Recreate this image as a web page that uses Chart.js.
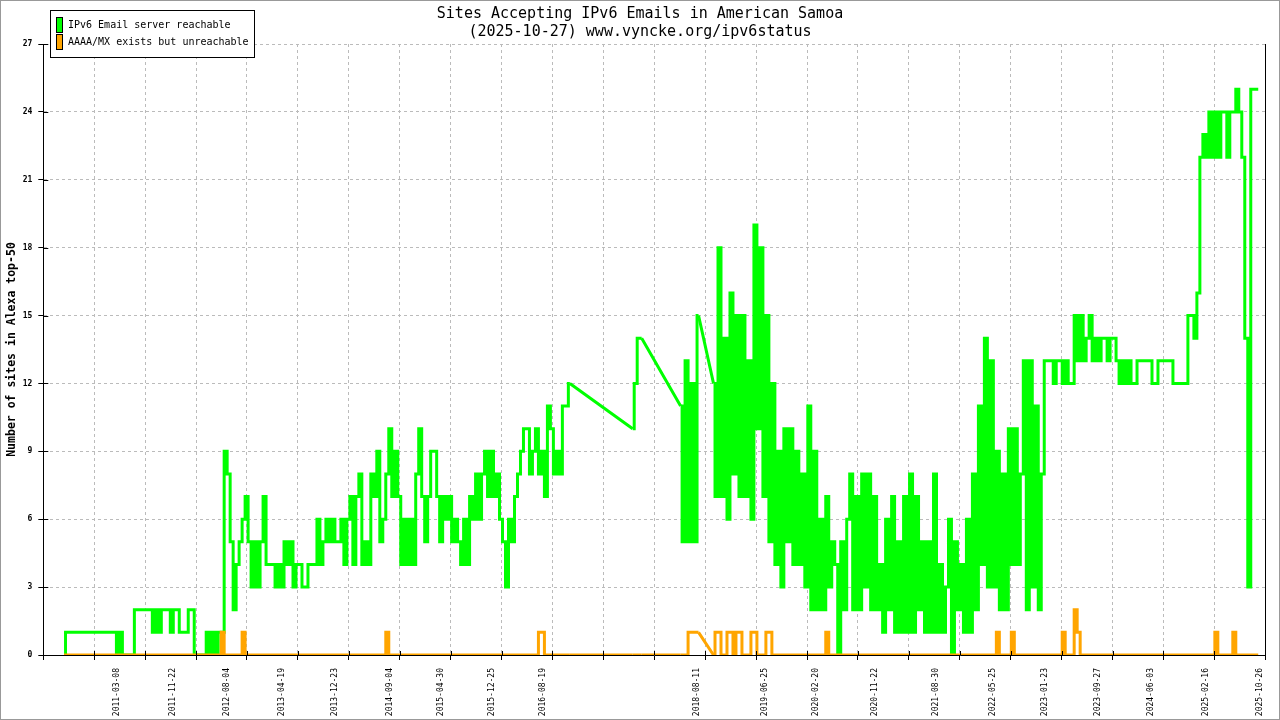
<!DOCTYPE html>
<html>
<head>
<meta charset="utf-8">
<title>Sites Accepting IPv6 Emails in American Samoa</title>
<script src="https://cdn.jsdelivr.net/npm/chart.js"></script>
<style>
  html, body { margin: 0; padding: 0; background: #fff; }
  canvas { display: block; }
</style>
</head>
<body>
<canvas id="myChart" width="1280" height="720"></canvas>
<script>
const chartTitle = ['Sites Accepting IPv6 Emails in American Samoa', '(2025-10-27) www.vyncke.org/ipv6status']
const seriesNames = ['IPv6 Email server reachable', 'AAAA/MX exists but unreachable']
const yAxisTitle = 'Number of sites in Alexa top-50'

const xMinDate = '2010-03-28'
const xMaxDate = '2025-11-20'

// one reading every two weeks, null where the log has no entries
const sampleStart = '2010-07-03'
const sampleStepDays = 14

const reachable = [
  0, 1, 1, 1, 1, 1, 1, 1, 1, 1, 1, 1, 1, 1, 1, 1, 1, 1, 0, 1,
  0, 0, 0, 0, 2, 2, 2, 2, 2, 2, 1, 2, 1, 2, 2, 2, 1, 2, 2, 1,
  1, 1, 2, 2, 0, 0, 0, 0, 1, 0, 1, 0, 1, 1, 9, 8, 5, 2, 4, 5,
  6, 7, 5, 3, 5, 3, 5, 7, 4, 4, 4, 3, 4, 3, 5, 4, 5, 3, 4, 4,
  3, 3, 4, 4, 4, 6, 4, 5, 6, 5, 6, 5, 5, 6, 4, 6, 7, 4, 7, 8,
  4, 5, 4, 8, 7, 9, 5, 6, 8, 10, 7, 9, 7, 4, 6, 4, 6, 4, 8, 10,
  7, 5, 7, 9, 9, 7, 5, 7, 6, 7, 5, 6, 5, 4, 6, 4, 7, 6, 8, 6,
  8, 9, 7, 9, 7, 8, 6, 5, 3, 6, 5, 7, 8, 9, 10, 10, 8, 9, 10, 8,
  9, 7, 11, 10, 8, 9, 8, 11, 11, 12, null, null, null, null, null, null, null, null, null, null,
  null, null, null, null, null, null, null, null, null, null, 10, 12, 14, 14, null, null, null, null, null, null,
  null, null, null, null, null, null, 11, 5, 13, 5, 12, 5, 15, null, null, null, null, 12, 7, 18,
  7, 14, 6, 16, 8, 15, 7, 15, 7, 13, 6, 19, 10, 18, 7, 15, 5, 12, 4, 9,
  3, 10, 5, 10, 4, 9, 4, 8, 3, 11, 2, 9, 2, 6, 2, 7, 3, 5, 4, 0,
  5, 2, 6, 8, 2, 7, 2, 8, 3, 8, 2, 7, 2, 4, 1, 6, 2, 7, 1, 5,
  1, 7, 1, 8, 1, 7, 2, 5, 1, 5, 1, 8, 1, 4, 1, 3, 6, 0, 5, 2,
  4, 1, 6, 1, 8, 2, 11, 4, 14, 3, 13, 3, 9, 2, 8, 2, 10, 4, 10, 4,
  8, 13, 2, 13, 3, 11, 2, 8, 13, 13, 13, 12, 13, 13, 12, 13, 12, 12, 15, 13,
  15, 13, 14, 15, 13, 14, 13, 14, 14, 13, 14, 14, 13, 12, 13, 12, 13, 12, 12, 13,
  13, 13, 13, 13, 12, 12, 13, 13, 13, 13, 13, 12, 12, 12, 12, 12, 15, 15, 14, 16,
  22, 23, 22, 24, 22, 24, 22, 24, 24, 22, 24, 24, 25, 24, 22, 14, 3, 25, 25, 25
]

const unreachable = [
  0, 0, 0, 0, 0, 0, 0, 0, 0, 0, 0, 0, 0, 0, 0, 0, 0, 0, 0, 0,
  0, 0, 0, 0, 0, 0, 0, 0, 0, 0, 0, 0, 0, 0, 0, 0, 0, 0, 0, 0,
  0, 0, 0, 0, 0, 0, 0, 0, 0, 0, 0, 0, 0, 1, 0, 0, 0, 0, 0, 0,
  1, 0, 0, 0, 0, 0, 0, 0, 0, 0, 0, 0, 0, 0, 0, 0, 0, 0, 0, 0,
  0, 0, 0, 0, 0, 0, 0, 0, 0, 0, 0, 0, 0, 0, 0, 0, 0, 0, 0, 0,
  0, 0, 0, 0, 0, 0, 0, 0, 1, 0, 0, 0, 0, 0, 0, 0, 0, 0, 0, 0,
  0, 0, 0, 0, 0, 0, 0, 0, 0, 0, 0, 0, 0, 0, 0, 0, 0, 0, 0, 0,
  0, 0, 0, 0, 0, 0, 0, 0, 0, 0, 0, 0, 0, 0, 0, 0, 0, 0, 0, 1,
  1, 0, 0, 0, 0, 0, 0, 0, 0, 0, null, null, null, null, null, null, null, null, null, null,
  null, null, null, null, null, null, null, null, null, null, 0, 0, 0, 0, null, null, null, null, null, null,
  null, null, null, null, null, null, 0, 0, 0, 1, 1, 1, 1, null, null, null, null, 0, 1, 1,
  0, 0, 1, 1, 0, 1, 1, 0, 0, 0, 1, 1, 0, 0, 0, 1, 1, 0, 0, 0,
  0, 0, 0, 0, 0, 0, 0, 0, 0, 0, 0, 0, 0, 0, 0, 1, 0, 0, 0, 0,
  0, 0, 0, 0, 0, 0, 0, 0, 0, 0, 0, 0, 0, 0, 0, 0, 0, 0, 0, 0,
  0, 0, 0, 0, 0, 0, 0, 0, 0, 0, 0, 0, 0, 0, 0, 0, 0, 0, 0, 0,
  0, 0, 0, 0, 0, 0, 0, 0, 0, 0, 0, 0, 1, 0, 0, 0, 0, 1, 0, 0,
  0, 0, 0, 0, 0, 0, 0, 0, 0, 0, 0, 0, 0, 0, 1, 0, 0, 0, 2, 1,
  0, 0, 0, 0, 0, 0, 0, 0, 0, 0, 0, 0, 0, 0, 0, 0, 0, 0, 0, 0,
  0, 0, 0, 0, 0, 0, 0, 0, 0, 0, 0, 0, 0, 0, 0, 0, 0, 0, 0, 0,
  0, 0, 0, 0, 0, 1, 0, 0, 0, 0, 0, 1, 0, 0, 0, 0, 0, 0, 0, 0
]

const tickDates = [
  '2011-03-08', '2011-11-22', '2012-08-04', '2013-04-19', '2013-12-23',
  '2014-09-04', '2015-04-30', '2015-12-25', '2016-08-19', '2018-08-11',
  '2019-06-25', '2020-02-20', '2020-11-22', '2021-08-30', '2022-05-25',
  '2023-01-23', '2023-09-27', '2024-06-03', '2025-02-16', '2025-10-26'
]
const yTicks = [0, 3, 6, 9, 12, 15, 18, 21, 24, 27]

const green = '#00ff00'
const orange = '#ffa500'
const font = "'DejaVu Sans Mono', monospace"
const gridColor = '#bbbbbb'

const dayOf = s => Date.UTC(+s.slice(0, 4), +s.slice(5, 7) - 1, +s.slice(8, 10)) / 86400000
const xMin = dayOf(xMinDate)
const xMax = dayOf(xMaxDate)

const toPoints = values => values.map((v, i) => ({ x: dayOf(sampleStart) + i * sampleStepDays, y: v }))

// straight joins across the stretches with no readings
const gapLinks = values => {
  const pts = toPoints(values)
  const out = []
  let last = null
  values.forEach((v, i) => {
    if (v === null) return
    if (last !== null && i - last > 1) {
      out.push(pts[last], pts[i], { x: pts[i].x, y: null })
    }
    last = i
  })
  return out
}

// key box, inward tick marks and the outer frame
const frameAndKey = {
  id: 'frameAndKey',
  afterDraw: chart => {
    const ctx = chart.ctx
    const area = chart.chartArea
    ctx.save()
    ctx.strokeStyle = '#000'
    ctx.lineWidth = 1
    ctx.beginPath()
    chart.scales.y.ticks.forEach(t => {
      const y = Math.round(chart.scales.y.getPixelForValue(t.value)) + 0.5
      ctx.moveTo(area.left, y)
      ctx.lineTo(area.left + 5, y)
    })
    chart.scales.xg.ticks.forEach(t => {
      const x = Math.round(chart.scales.xg.getPixelForValue(t.value)) + 0.5
      ctx.moveTo(x, area.bottom)
      ctx.lineTo(x, area.bottom - 4)
    })
    ctx.stroke()

    ctx.fillStyle = '#fff'
    ctx.fillRect(50.5, 10.5, 204, 47)
    ctx.strokeRect(50.5, 10.5, 204, 47)
    ctx.font = `10px ${font}`
    ctx.textBaseline = 'middle'
    chart.data.datasets.slice(0, 2).forEach((ds, i) => {
      const top = 17.5 + i * 17
      ctx.fillStyle = ds.borderColor
      ctx.fillRect(56.5, top, 6, 15)
      ctx.strokeRect(56.5, top, 6, 15)
      ctx.fillStyle = '#000'
      ctx.fillText(ds.label, 68, top + 8)
    })

    ctx.strokeStyle = '#999'
    ctx.strokeRect(0.5, 0.5, chart.width - 1, chart.height - 1)
    ctx.restore()
  }
}

new Chart(document.getElementById('myChart'), {
  type: 'line',
  data: {
    datasets: [
      { label: seriesNames[0], data: toPoints(reachable), borderColor: green, order: 2, stepped: 'middle', spanGaps: false, xAxisID: 'x', yAxisID: 'y' },
      { label: seriesNames[1], data: toPoints(unreachable), borderColor: orange, order: 0, stepped: 'middle', spanGaps: false, xAxisID: 'x', yAxisID: 'y' },
      { label: 'gaps reachable', data: gapLinks(reachable), borderColor: green, order: 2, spanGaps: false, xAxisID: 'x', yAxisID: 'y' },
      { label: 'gaps unreachable', data: gapLinks(unreachable), borderColor: orange, order: 0, spanGaps: false, xAxisID: 'x', yAxisID: 'y' }
    ]
  },
  options: {
    responsive: false,
    animation: false,
    devicePixelRatio: 1,
    elements: {
      line: { borderWidth: 3, tension: 0, borderJoinStyle: 'miter', borderCapStyle: 'butt', fill: false },
      point: { radius: 0, hoverRadius: 0 }
    },
    layout: { padding: 0 },
    plugins: {
      legend: { display: false },
      tooltip: { enabled: false },
      title: {
        display: true,
        text: chartTitle,
        color: '#000',
        font: { family: font, size: 15, weight: 'normal', lineHeight: 1.2 },
        padding: { top: 5, bottom: 3 }
      }
    },
    scales: {
      x: {
        type: 'linear',
        position: 'bottom',
        weight: 1,
        min: xMin,
        max: xMax,
        bounds: 'data',
        afterBuildTicks: axis => {
          axis.ticks = tickDates.map(d => ({ value: dayOf(d) }))
        },
        ticks: {
          autoSkip: false,
          minRotation: 90,
          maxRotation: 90,
          padding: 13,
          color: '#000',
          font: { family: font, size: 8 },
          callback: (value, index) => tickDates[index]
        },
        grid: { display: false, drawTicks: false },
        border: { display: false },
        afterFit: axis => {
          axis.height = 65
          axis.paddingLeft = 0
          axis.paddingRight = 0
        }
      },
      xg: {
        type: 'linear',
        position: 'bottom',
        weight: 0,
        min: xMin,
        max: xMax,
        bounds: 'data',
        afterBuildTicks: axis => {
          const step = (xMax - xMin) / 24
          const ticks = []
          for (let k = 0; k <= 24; k++) ticks.push({ value: xMin + k * step })
          axis.ticks = ticks
        },
        ticks: { display: false },
        grid: { color: gridColor, lineWidth: 1, tickColor: '#000', tickLength: 5, tickBorderDash: [] },
        border: { display: true, color: '#000', width: 1, dash: [3, 3] },
        afterFit: axis => {
          axis.height = 0
          axis.paddingLeft = 0
          axis.paddingRight = 0
        }
      },
      y: {
        type: 'linear',
        position: 'left',
        min: 0,
        max: 27,
        afterBuildTicks: axis => {
          axis.ticks = yTicks.map(v => ({ value: v }))
        },
        ticks: { color: '#000', padding: 6, font: { family: font, size: 8, weight: 'bold' } },
        grid: { color: gridColor, lineWidth: 1, tickColor: '#000', tickLength: 5, tickBorderDash: [] },
        border: { display: true, color: '#000', width: 1, dash: [3, 3] },
        title: {
          display: true,
          text: yAxisTitle,
          color: '#000',
          font: { family: font, size: 11.5, weight: 'bold', lineHeight: 1.2 },
          padding: { top: 5, bottom: 0 }
        },
        afterFit: axis => { axis.width = 43.3 }
      },
      y2: {
        type: 'linear',
        position: 'right',
        min: 0,
        max: 27,
        ticks: { display: false },
        grid: { display: false, drawTicks: false },
        border: { display: true, color: '#000', width: 1 },
        afterFit: axis => { axis.width = 14.7 }
      }
    }
  },
  plugins: [frameAndKey]
})
</script>
</body>
</html>
